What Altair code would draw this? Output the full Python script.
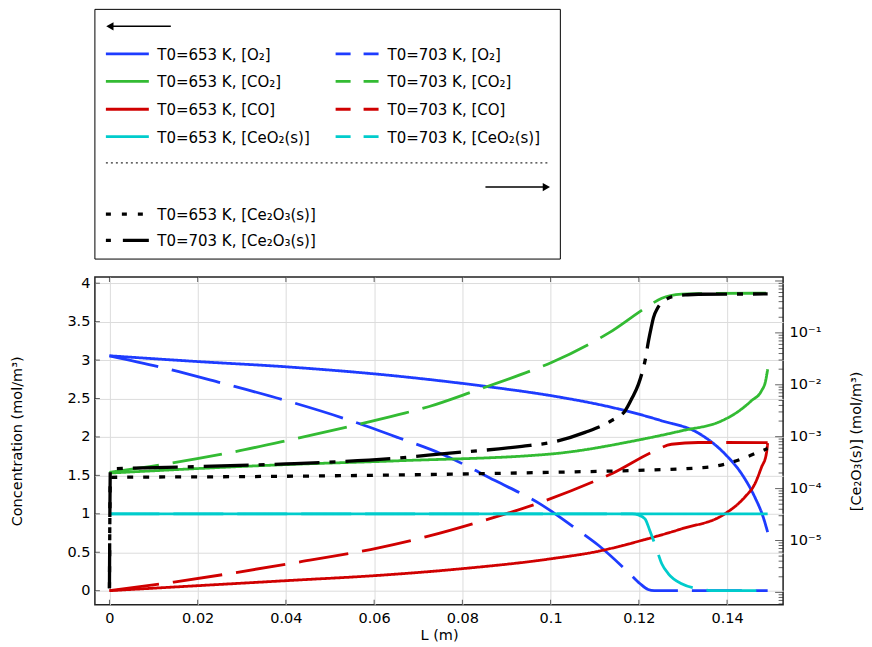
import altair as alt
import pandas as pd

# ---------------- data ----------------
# T0 = 653 K
O2_653_L = [0, 0.0202, 0.0399, 0.0655, 0.0859, 0.1002, 0.1154, 0.1252, 0.1335, 0.1395, 0.1433, 0.1463, 0.1482, 0.1492]
O2_653 = [3.056, 2.98, 2.913, 2.79, 2.653, 2.536, 2.364, 2.21, 2.05, 1.78, 1.52, 1.216, 0.956, 0.761]

CO2_653_L = [0, 0.0399, 0.0655, 0.1002, 0.1199, 0.1297, 0.1388, 0.1425, 0.1455, 0.1478, 0.1487, 0.1492]
CO2_653 = [1.53, 1.64, 1.69, 1.779, 1.96, 2.08, 2.21, 2.33, 2.47, 2.6, 2.72, 2.88]

CO_653_L = [0, 0.02, 0.0418, 0.061, 0.0799, 0.1002, 0.1109, 0.1206, 0.1297, 0.1395, 0.144, 0.1463, 0.1478, 0.1489, 0.1492]
CO_653 = [0, 0.065, 0.136, 0.199, 0.286, 0.416, 0.514, 0.653, 0.805, 1.0, 1.216, 1.39, 1.605, 1.78, 1.92]

CeO2_653_L = [0, 0.05, 0.1, 0.1492]
CeO2_653 = [1.0, 1.0, 1.0, 1.0]

Ce2O3_653_L = [0, 0.0002, 0.03, 0.0655, 0.1002, 0.1229, 0.1335, 0.1373, 0.1395, 0.1433, 0.1465, 0.1492]
Ce2O3_653 = [1.2e-6, 1.65e-4, 1.7e-4, 1.83e-4, 2.06e-4, 2.29e-4, 2.51e-4, 2.69e-4, 2.95e-4, 3.72e-4, 4.8e-4, 5.9e-4]

# T0 = 703 K
O2_703_L = [0, 0.0112, 0.0255, 0.0396, 0.0538, 0.0655, 0.0753, 0.0874, 0.0976, 0.1063, 0.1109, 0.1176, 0.1203, 0.1221, 0.1235, 0.1492]
O2_703 = [3.056, 2.913, 2.70, 2.48, 2.229, 1.99, 1.779, 1.432, 1.13, 0.783, 0.588, 0.24, 0.09, 0.015, 0.0, 0.0]

CO2_703_L = [0, 0.0119, 0.0259, 0.0402, 0.0569, 0.0655, 0.0723, 0.0829, 0.0965, 0.1002, 0.1101, 0.1131, 0.1222, 0.1252, 0.1297, 0.1335, 0.1492]
CO2_703 = [1.54, 1.64, 1.78, 1.952, 2.169, 2.29, 2.393, 2.601, 2.883, 2.969, 3.25, 3.35, 3.705, 3.805, 3.857, 3.865, 3.87]

CO_703_L = [0, 0.0146, 0.0406, 0.061, 0.0723, 0.0836, 0.0972, 0.1112, 0.1142, 0.1229, 0.1274, 0.1335, 0.1492]
CO_703 = [0, 0.112, 0.35, 0.558, 0.709, 0.891, 1.138, 1.455, 1.532, 1.80, 1.905, 1.928, 1.926]

CeO2_703_L = [0, 0.1, 0.1185, 0.1199, 0.1214, 0.1225, 0.124, 0.1252, 0.1267, 0.1297, 0.1335, 0.1373, 0.1492]
CeO2_703 = [1.0, 1.0, 0.998, 0.985, 0.935, 0.78, 0.545, 0.35, 0.22, 0.09, 0.026, 0.0, 0.0]

Ce2O3_703_L = [0, 0.0002, 0.02, 0.04, 0.0655, 0.0753, 0.0935, 0.1002, 0.1078, 0.1138, 0.1169, 0.1185, 0.1199,
               0.1208, 0.1214, 0.1222, 0.1228, 0.1233, 0.1242, 0.1252, 0.1265, 0.1282, 0.131, 0.1335, 0.14, 0.1492]
Ce2O3_703 = [1.2e-6, 2.39e-4, 2.65e-4, 2.99e-4, 3.89e-4, 4.65e-4, 6.52e-4, 7.78e-4, 1.21e-3, 2.04e-3, 3.16e-3, 5.62e-3, 1.02e-2,
             1.78e-2, 2.88e-2, 7.08e-2, 0.126, 0.195, 0.295, 0.380, 0.457, 0.513, 0.543, 0.555, 0.560, 0.562]

species = ["O2", "CO2", "CO", "CeO2"]
species_labels = ["[O₂]", "[CO₂]", "[CO]", "[CeO₂(s)]"]
temps = ["653", "703"]
ce2o3_label = "[Ce₂O₃(s)]"

x_ticks = [0, 0.02, 0.04, 0.06, 0.08, 0.1, 0.12, 0.14]
y_ticks = [0, 0.5, 1, 1.5, 2, 2.5, 3, 3.5, 4]
log_labelled = [1e-5, 1e-4, 1e-3, 1e-2, 1e-1]
log_major = [1e-6, 1e-5, 1e-4, 1e-3, 1e-2, 1e-1, 1.0]

# ---------------- tables ----------------
left_series = {
    ("O2", "653"): (O2_653_L, O2_653), ("O2", "703"): (O2_703_L, O2_703),
    ("CO2", "653"): (CO2_653_L, CO2_653), ("CO2", "703"): (CO2_703_L, CO2_703),
    ("CO", "653"): (CO_653_L, CO_653), ("CO", "703"): (CO_703_L, CO_703),
    ("CeO2", "653"): (CeO2_653_L, CeO2_653), ("CeO2", "703"): (CeO2_703_L, CeO2_703),
}
rows = []
for sp in species:
    for T in temps:
        Ls, Cs = left_series[(sp, T)]
        for l, c in zip(Ls, Cs):
            rows.append({"L": l, "C": c, "sp": sp, "T": T, "key": sp + "_" + T})
left_df = pd.DataFrame(rows)

rows = []
for T, (Ls, Vs) in {"653": (Ce2O3_653_L, Ce2O3_653), "703": (Ce2O3_703_L, Ce2O3_703)}.items():
    for l, v in zip(Ls, Vs):
        rows.append({"L": l, "V": v, "Tc": T})
right_df = pd.DataFrame(rows)

# ---------------- styling / layout ----------------
FONT = "DejaVu Sans"
FS = 14.5
FS_LEG = 15
W, H = 689, 328
colors = ["#1e3cff", "#33bb33", "#d00000", "#00cccc"]
dash_653 = [1, 0]
dash_703 = [50, 14]
dot_653 = [6, 10]
dashdot_703 = [45, 10, 6, 10]

x_dom = [-0.0033, 0.1527]
y_dom = [-0.182, 4.08]
log_dom = [5.8e-7, 1.19]

x_scale = alt.Scale(domain=x_dom, nice=False, zero=False)
yl_scale = alt.Scale(domain=y_dom, nice=False, zero=False)
yr_scale = alt.Scale(type="log", domain=log_dom, nice=False)

x_axis = alt.Axis(values=x_ticks, format="~g", title="L (m)", grid=True, gridColor="#dcdcdc",
                  ticks=False, domain=False, labelPadding=7, titlePadding=3)
yl_axis = alt.Axis(values=y_ticks, format="~g", title="Concentration (mol/m³)", grid=True,
                   gridColor="#dcdcdc", ticks=False, domain=False, labelPadding=5, titlePadding=42,
                   orient="left")
label_expr = ("datum.value < 3e-5 ? '10⁻⁵' : datum.value < 3e-4 ? '10⁻⁴' : datum.value < 3e-3 ? '10⁻³' : "
              "datum.value < 3e-2 ? '10⁻²' : '10⁻¹'")
yr_axis = alt.Axis(values=log_labelled, labelExpr=label_expr, title="[Ce₂O₃(s)] (mol/m³)", grid=False,
                   ticks=False, domain=False, labelPadding=6, titlePadding=43, orient="right",
                   titleAngle=270)

X = alt.X("L:Q", scale=x_scale, axis=x_axis)

left_lines = alt.Chart(left_df).mark_line(strokeWidth=2.8, clip=True, interpolate="monotone").encode(
    x=X,
    y=alt.Y("C:Q", scale=yl_scale, axis=yl_axis),
    color=alt.Color("sp:N", scale=alt.Scale(domain=species, range=colors), legend=None),
    strokeDash=alt.StrokeDash("T:N", scale=alt.Scale(domain=temps, range=[dash_653, dash_703]), legend=None),
    detail="key:N",
)

right_lines = alt.Chart(right_df).mark_line(strokeWidth=3.3, color="black", clip=True, interpolate="monotone").encode(
    x=X,
    y=alt.Y("V:Q", scale=yr_scale, axis=yr_axis),
    strokeDash=alt.StrokeDash("Tc:N", scale=alt.Scale(domain=temps, range=[dot_653, dashdot_703]), legend=None),
    detail="Tc:N",
)

# inward ticks on the frame
xt_df = pd.DataFrame({"L": x_ticks})
yt_df = pd.DataFrame({"C": y_ticks})
rmaj_df = pd.DataFrame({"V": log_major})
minor = [m * 10.0 ** k for k in range(-7, 1) for m in range(2, 10)]
rmin_df = pd.DataFrame({"V": [v for v in minor if log_dom[0] < v < log_dom[1]]})

tick_bottom = alt.Chart(xt_df).mark_tick(orient="vertical", size=5, thickness=1, color="#222").encode(
    x=X, y=alt.value(H - 2.5))
tick_top = alt.Chart(xt_df).mark_tick(orient="vertical", size=5, thickness=1, color="#222").encode(
    x=X, y=alt.value(2.5))
tick_left = alt.Chart(yt_df).mark_tick(orient="horizontal", size=5, thickness=1, color="#222").encode(
    y=alt.Y("C:Q", scale=yl_scale, axis=yl_axis), x=alt.value(2.5))
tick_rmaj = alt.Chart(rmaj_df).mark_tick(orient="horizontal", size=8, thickness=1, color="#222").encode(
    y=alt.Y("V:Q", scale=yr_scale, axis=yr_axis), x=alt.value(W - 4))
tick_rmin = alt.Chart(rmin_df).mark_tick(orient="horizontal", size=4.5, thickness=1, color="#222").encode(
    y=alt.Y("V:Q", scale=yr_scale, axis=yr_axis), x=alt.value(W - 2.25))

# ---------------- legend box (drawn above the plot) ----------------
one = alt.Data(values=[{}])
BOX_TOP, BOX_BOT, BOX_R = -268, -18, 466
row_y = [-223.5, -196, -168, -140.5]
col_line = [(11, 54), (241, 286)]
col_text = [62.5, 293]
leg_layers = [
    alt.Chart(one).mark_rect(fill="white", stroke="black", strokeWidth=1).encode(
        x=alt.value(0), x2=alt.value(BOX_R), y=alt.value(BOX_TOP), y2=alt.value(BOX_BOT)),
    # left arrow
    alt.Chart(one).mark_rule(color="black", strokeWidth=1.5).encode(
        x=alt.value(18), x2=alt.value(76), y=alt.value(-251)),
    alt.Chart(one).mark_point(shape="triangle-left", filled=True, size=70, color="black", opacity=1).encode(
        x=alt.value(15), y=alt.value(-251)),
    # separator
    alt.Chart(one).mark_rule(color="#333", strokeWidth=1.3, strokeDash=[2, 3]).encode(
        x=alt.value(11), x2=alt.value(456), y=alt.value(-114.3)),
    # right arrow
    alt.Chart(one).mark_rule(color="black", strokeWidth=1.5).encode(
        x=alt.value(391), x2=alt.value(449), y=alt.value(-90.1)),
    alt.Chart(one).mark_point(shape="triangle-right", filled=True, size=70, color="black", opacity=1).encode(
        x=alt.value(452), y=alt.value(-90.1)),
]
leg_dash = {"653": [1, 0], "703": [15, 13]}
for i, (sp, lab) in enumerate(zip(species, species_labels)):
    for j, T in enumerate(temps):
        leg_layers.append(alt.Chart(one).mark_rule(color=colors[i], strokeWidth=2.8, strokeDash=leg_dash[T]).encode(
            x=alt.value(col_line[j][0]), x2=alt.value(col_line[j][1]), y=alt.value(row_y[i])))
        leg_layers.append(alt.Chart(one).mark_text(text=f"T0={T} K, {lab}", align="left", baseline="middle",
                                                   font=FONT, fontSize=FS_LEG, color="black").encode(
            x=alt.value(col_text[j]), y=alt.value(row_y[i] + 1)))
ce_rows = [-63.1, -36.8]
ce_dash = {"653": [5, 11], "703": [5, 12, 27]}
for k, T in enumerate(temps):
    leg_layers.append(alt.Chart(one).mark_rule(color="black", strokeWidth=3.3, strokeDash=ce_dash[T]).encode(
        x=alt.value(col_line[0][0]), x2=alt.value(col_line[0][1]), y=alt.value(ce_rows[k])))
    leg_layers.append(alt.Chart(one).mark_text(text=f"T0={T} K, {ce2o3_label}", align="left", baseline="middle",
                                               font=FONT, fontSize=FS_LEG, color="black").encode(
        x=alt.value(col_text[0]), y=alt.value(ce_rows[k] + 1)))

left_group = alt.layer(left_lines, tick_left, tick_bottom, tick_top, *leg_layers)
right_group = alt.layer(right_lines, tick_rmaj, tick_rmin)

chart = alt.layer(left_group, right_group).resolve_scale(y="independent", strokeDash="independent").properties(
    width=W, height=H, padding={"left": 1, "top": 0, "right": 0, "bottom": 0}
).configure_view(stroke="#222", strokeWidth=1.5).configure_axis(
    labelFont=FONT, labelFontSize=FS, labelColor="black", titleFont=FONT, titleFontSize=FS,
    titleFontWeight="normal", titleColor="black"
)

chart.save("out.html", embed_options={"renderer": "svg", "actions": False})
